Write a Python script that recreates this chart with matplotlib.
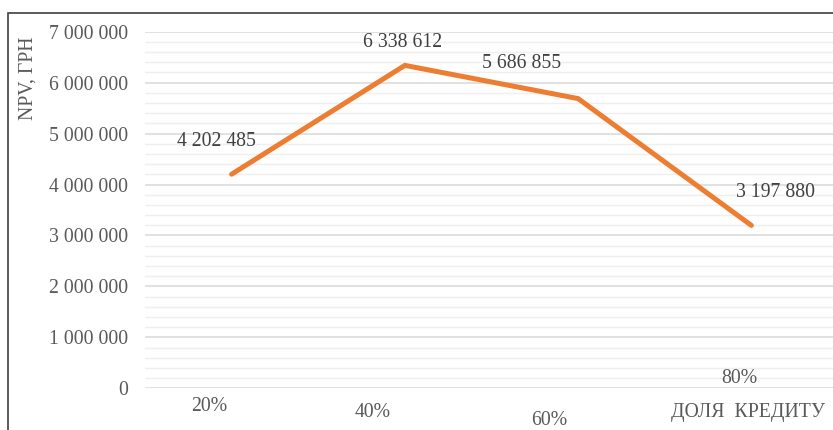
import matplotlib.pyplot as plt
from matplotlib.ticker import MultipleLocator, FuncFormatter
from matplotlib.patches import Rectangle

# Дані
categories = ['20%', '40%', '60%', '80%']
npv = [4202485, 6338612, 5686855, 3197880]

# зсуви підписів (пікселі), як у ручно розставленому графіку Excel
value_label_offsets = [(-15, 33), (-2, 23), (-57, 35), (24, 33)]
cat_label_offsets = [(-22, -18), (-32, -24), (-29, -32), (-12, 10)]

TEXT = '#595959'
ORANGE = '#ED7D31'
FS = 14.2

plt.rcParams['font.family'] = ['Liberation Serif', 'DejaVu Serif']

W, H = 833, 430
fig = plt.figure(figsize=(W / 100, H / 100), dpi=100)

# рамка області діаграми
fig.patches.append(Rectangle((8 / W, -0.1), 1.2, 1 - 12.7 / H + 0.1,
                             transform=fig.transFigure, fill=False,
                             edgecolor='#404040', linewidth=1.2))

# область побудови
left, right = 145 / W, 838 / W
bottom, top = 1 - 388.3 / H, 1 - 31.7 / H
ax = fig.add_axes([left, bottom, right - left, top - bottom])

x = list(range(len(categories)))
ax.plot(x, npv, color=ORANGE, linewidth=3.6, solid_capstyle='round',
        solid_joinstyle='miter', zorder=3)

ax.set_xlim(-0.5, len(categories) - 0.5)
ax.set_ylim(0, 7000000)
ax.yaxis.set_major_locator(MultipleLocator(1000000))
ax.yaxis.set_minor_locator(MultipleLocator(200000))
ax.yaxis.set_major_formatter(
    FuncFormatter(lambda v, p: f'{int(v):,}'.replace(',', ' ')))
ax.grid(which='major', axis='y', color='#D9D9D9', linewidth=1.1)
ax.grid(which='minor', axis='y', color='#EFEFEF', linewidth=1.0)
ax.set_axisbelow(True)

for s in ax.spines.values():
    s.set_visible(False)
ax.tick_params(axis='y', which='both', length=0, labelsize=FS,
               labelcolor=TEXT, pad=12.5)
ax.set_xticks(x)
ax.set_xticklabels([])
ax.tick_params(axis='x', length=0)

# підписи значень
for i, (v, off) in enumerate(zip(npv, value_label_offsets)):
    ax.annotate(f'{v:,}'.replace(',', ' '), xy=(i, v), xytext=off,
                textcoords='offset pixels', ha='center', va='center',
                fontsize=FS, color='#404040')

# підписи категорій
for i, (c, off) in enumerate(zip(categories, cat_label_offsets)):
    ax.annotate(c, xy=(i, 0), xytext=off, textcoords='offset pixels',
                ha='center', va='center', fontsize=FS, color=TEXT,
                annotation_clip=False)

# назви осей
fig.text(28 / W, 1 - 78 / H, 'NPV, ГРН', rotation=90, ha='center',
         va='center', fontsize=FS, color=TEXT)
fig.text(748 / W, 1 - 413 / H, 'ДОЛЯ  КРЕДИТУ', ha='center', va='center',
         fontsize=FS, color=TEXT)

fig.savefig('out.png', dpi=100)
